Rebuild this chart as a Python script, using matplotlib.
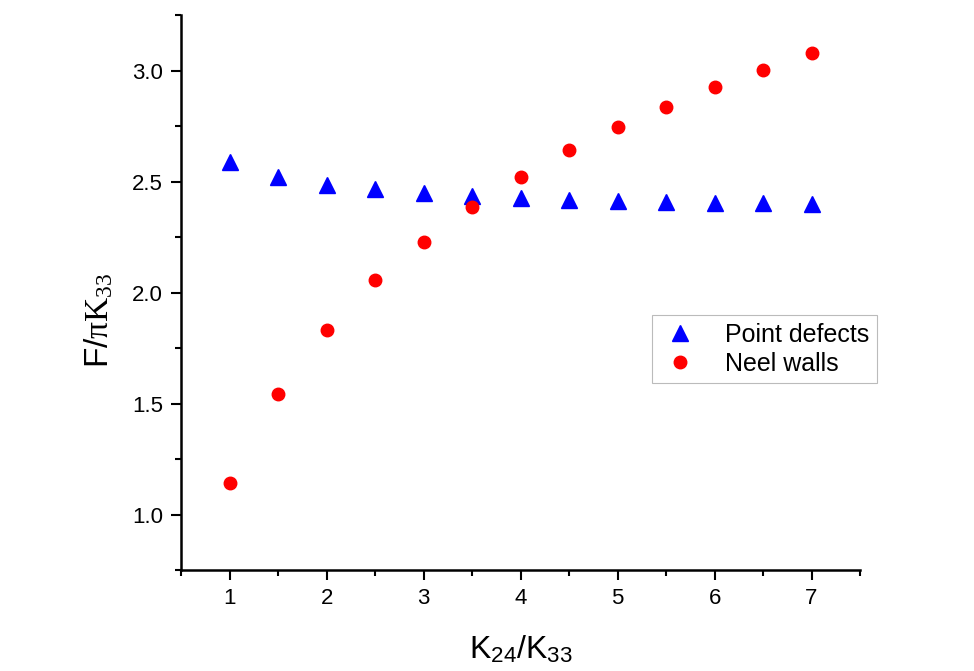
import matplotlib.pyplot as plt
from matplotlib.ticker import MultipleLocator

plt.rcParams['font.family'] = ['Liberation Sans', 'DejaVu Sans']
plt.rcParams['mathtext.fontset'] = 'custom'
plt.rcParams['mathtext.rm'] = 'Liberation Serif'
plt.rcParams['mathtext.it'] = 'Liberation Serif'
plt.rcParams['mathtext.sf'] = 'Liberation Sans'

# K24/K33 ratio and normalised free energy F/(pi K33)
k_ratio = [1, 1.5, 2, 2.5, 3, 3.5, 4, 4.5, 5, 5.5, 6, 6.5, 7]
point_defects = [2.59, 2.52, 2.485, 2.465, 2.45, 2.435, 2.425, 2.418, 2.412,
                 2.407, 2.404, 2.402, 2.401]
neel_walls = [1.14, 1.545, 1.83, 2.055, 2.23, 2.386, 2.52, 2.64, 2.745,
              2.836, 2.925, 3.003, 3.078]

fig = plt.figure(figsize=(9.74, 6.71), dpi=100)
ax = fig.add_axes([0.186, 0.1505, 0.697, 0.827])

ax.plot(k_ratio, point_defects, linestyle='none', marker='^', color='#0000ff',
        markersize=11, label='Point defects')
ax.plot(k_ratio, neel_walls, linestyle='none', marker='o', color='#ff0000',
        markersize=9, label='Neel walls')

ax.set_xlim(0.5, 7.5)
ax.set_ylim(0.75, 3.25)
ax.xaxis.set_major_locator(MultipleLocator(1))
ax.xaxis.set_minor_locator(MultipleLocator(0.5))
ax.yaxis.set_major_locator(MultipleLocator(0.5))
ax.yaxis.set_minor_locator(MultipleLocator(0.25))
ax.yaxis.set_major_formatter(plt.FormatStrFormatter('%.1f'))

for side in ('top', 'right'):
    ax.spines[side].set_visible(False)
for side in ('left', 'bottom'):
    ax.spines[side].set_linewidth(1.8)

ax.tick_params(which='major', direction='out', length=7, width=1.5,
               labelsize=16, pad=6)
ax.tick_params(which='minor', direction='out', length=4, width=1.5)

ax.set_xlabel(r'K$_{\mathsf{24}}$/K$_{\mathsf{33}}$', fontsize=23)
ax.set_ylabel(r'F/$\pi\mathrm{K}_{33}$', fontsize=24)
ax.xaxis.set_label_coords(0.5, -0.115)
ax.yaxis.set_label_coords(-0.097, 0.45)

leg = ax.legend(loc='upper left', bbox_to_anchor=(0.694, 0.459), fontsize=18,
                frameon=True, fancybox=False, handletextpad=1.0,
                borderpad=0.3, labelspacing=0.2, handlelength=1.6,
                borderaxespad=0)
leg.get_frame().set_edgecolor('#aaaaaa')
leg.get_frame().set_linewidth(0.8)

fig.savefig('out.png', dpi=100)
